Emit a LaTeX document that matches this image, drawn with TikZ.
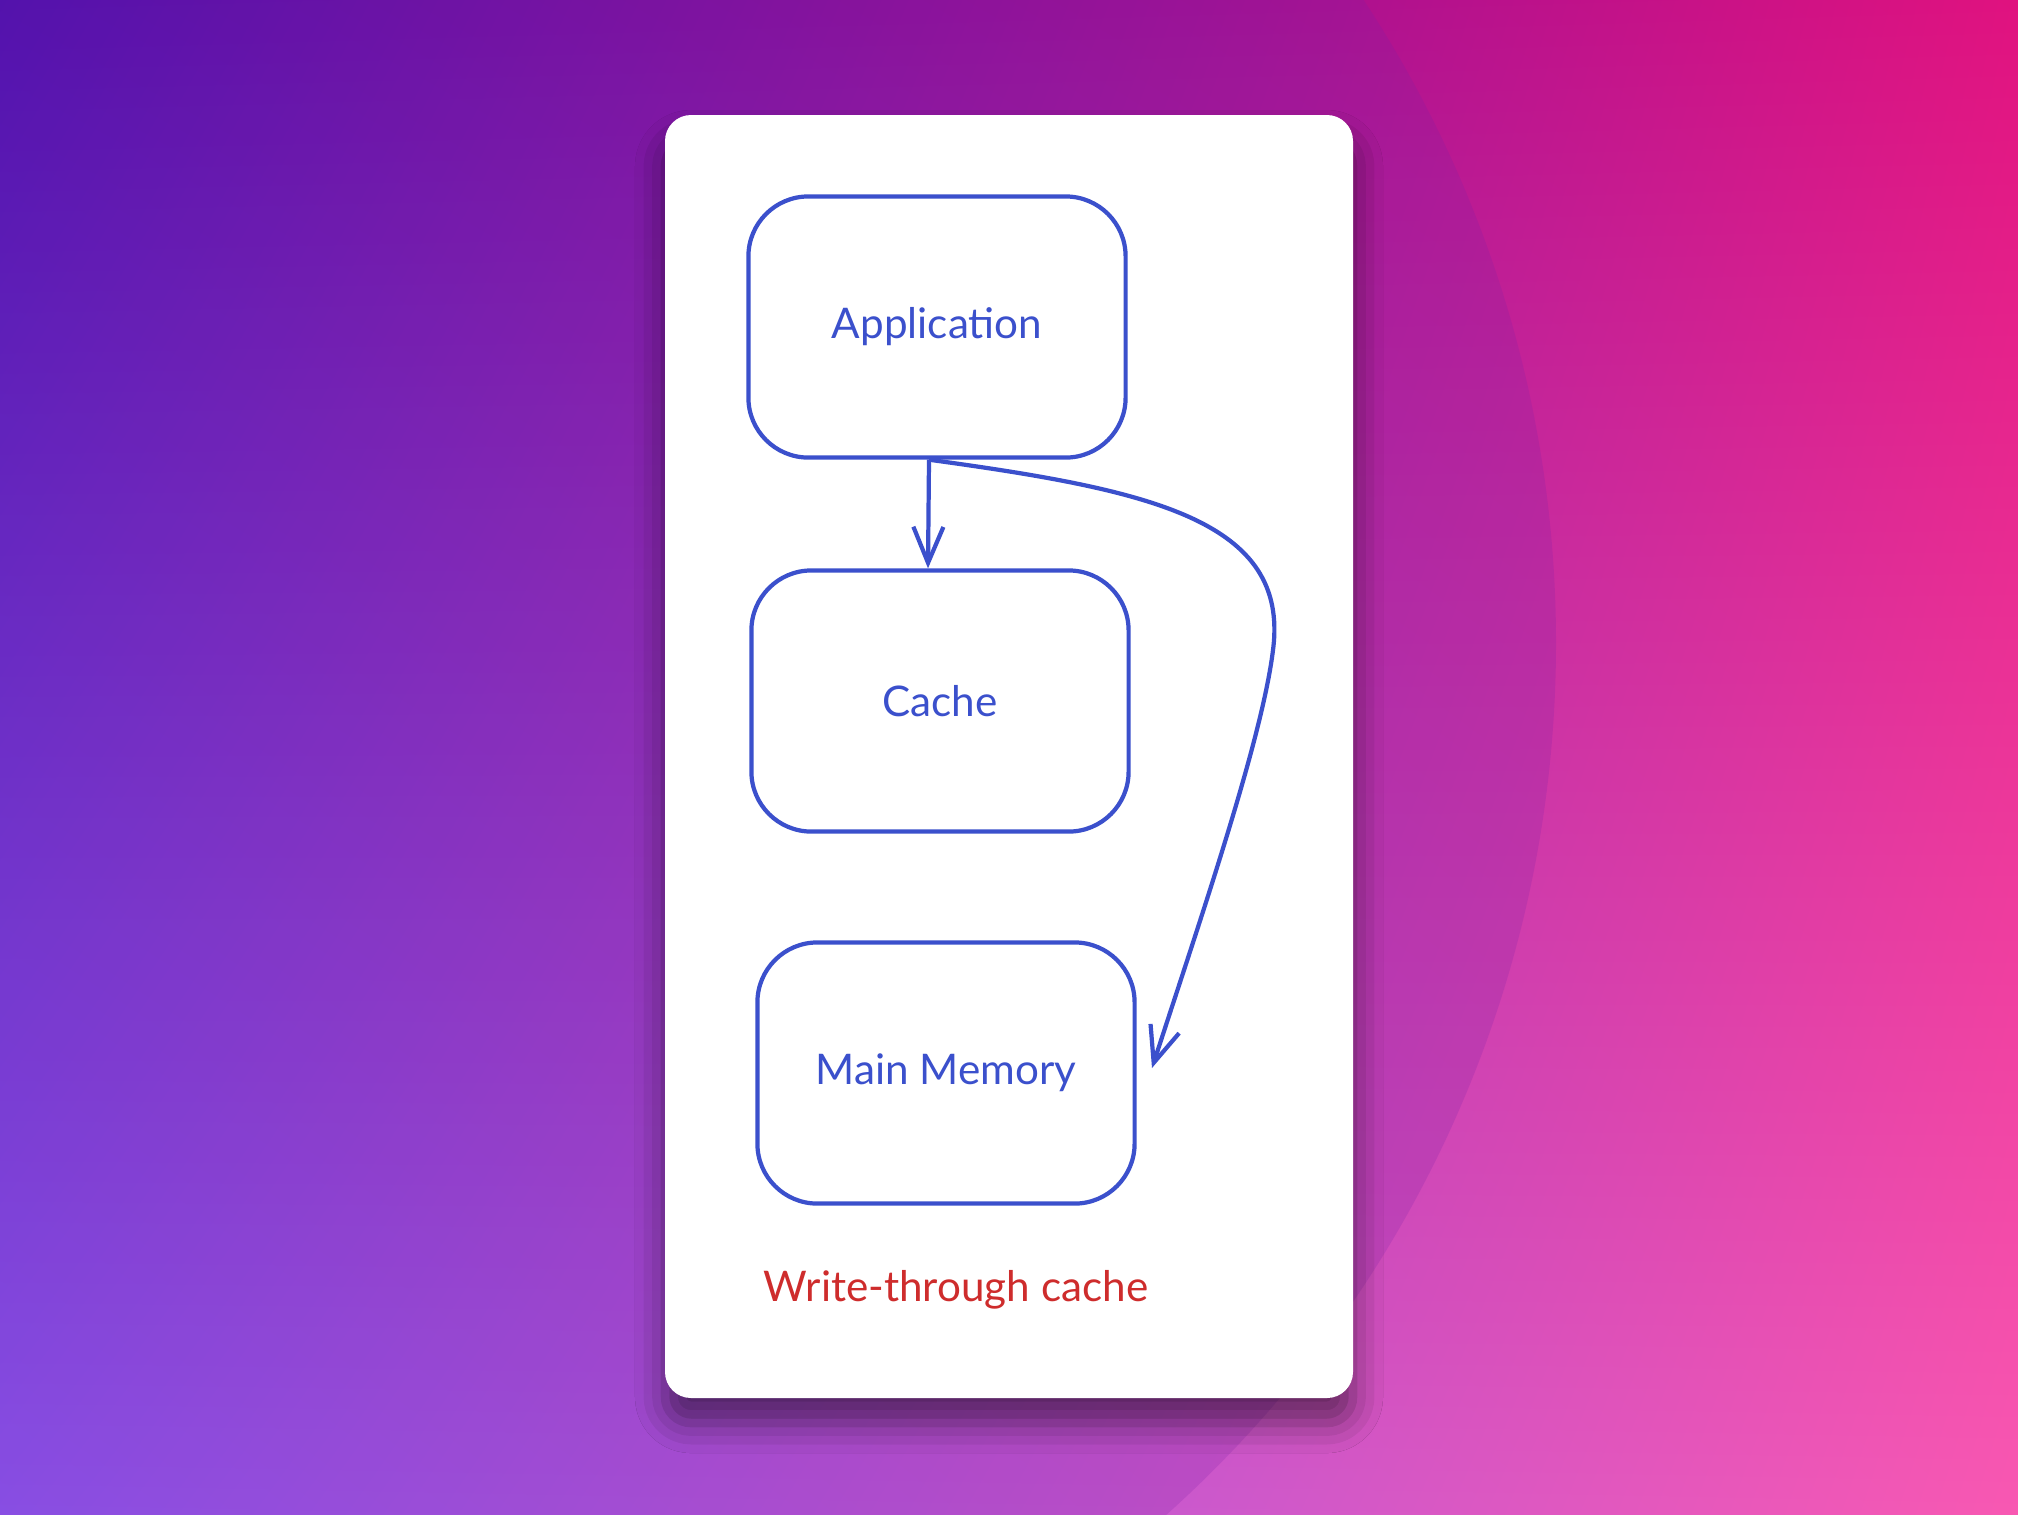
\documentclass[tikz,border=0pt]{standalone}
\usepackage{fontspec}
\setmainfont{Lato}
\usetikzlibrary{arrows.meta,shadows.blur,shadings}

\definecolor{inkblue}{HTML}{3B50CC}
\definecolor{inkred}{HTML}{CE2C2C}
\definecolor{bgtl}{HTML}{4A0FAE}
\definecolor{bgtr}{HTML}{E0127F}
\definecolor{bgbl}{HTML}{8C5AF2}
\definecolor{bgbr}{HTML}{F858B2}
\definecolor{glow}{HTML}{7A1FA8}

\begin{document}
\begin{tikzpicture}
	[x=0.01cm, y=-0.01cm,
	 box/.style={draw=inkblue, line width=1.2pt, rounded corners=0.6cm,
	   minimum width=3.77cm, minimum height=2.61cm, text=inkblue,
	   font=\fontsize{12}{14}\selectfont},
	 note/.style={text=inkred, font=\fontsize{12}{14}\selectfont},
	 link/.style={draw=inkblue, line width=1.2pt,
	   -{Straight Barb[length=0.36cm, width=0.3cm]}}]
	% backdrop
	\useasboundingbox (0,0) rectangle (2018,1514);
	\shade[upper left=bgtl, upper right=bgtr, lower left=bgbl, lower right=bgbr]
	  (0,0) rectangle (2018,1514);
	\begin{scope}
	  \clip (0,0) rectangle (2018,1514);
	  \fill[glow, opacity=0.2] (386,643) circle [radius=1170];
	\end{scope}
	% card
	\fill[white, rounded corners=0.26cm,
	  blur shadow={shadow xshift=0pt, shadow yshift=-0.25cm,
	    shadow blur radius=0.3cm, shadow opacity=50}]
	  (665,115) rectangle (1353,1398);
	% boxes
	\node[box] (app)   at (937,327)  {Application};
	\node[box] (cache) at (940,701)  {Cache};
	\node[box] (mem)   at (946,1073) {Main Memory};
	\node[note] (title) at (956,1290) {Write-through cache};
	\coordinate (memtip) at (1152,1068);
	% writes
	\path ([xshift=-0.08cm]app.south) edge[link] ([xshift=-0.12cm]cache.north);
	\draw[link] ([xshift=-0.08cm]app.south)
	  .. controls (1150,490) and (1290,520) .. (1273,650)
	  .. controls (1262,740) and (1200,920) .. (memtip);
\end{tikzpicture}
\end{document}
